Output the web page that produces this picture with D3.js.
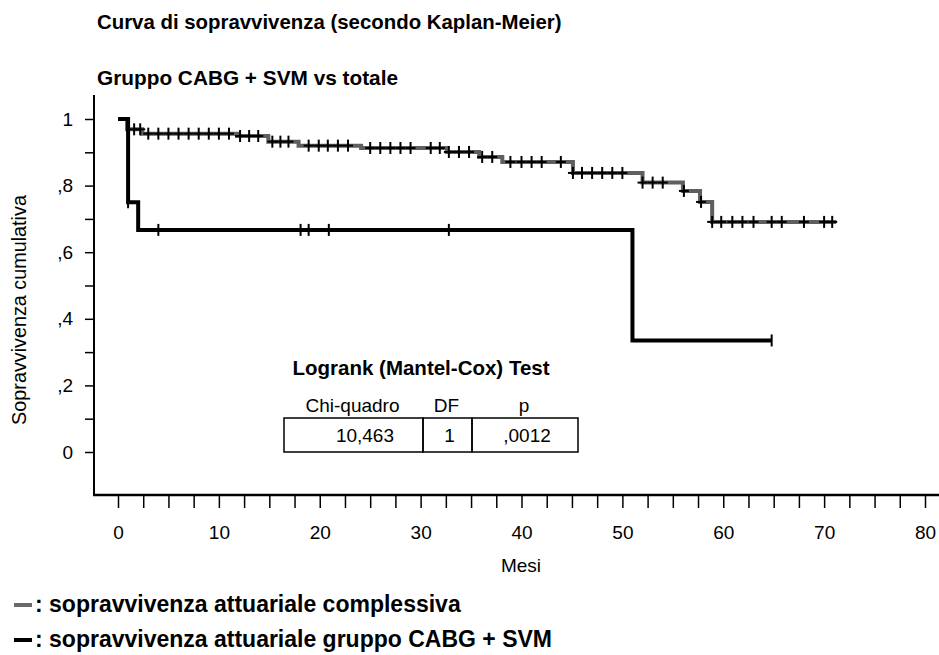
<!DOCTYPE html>
<html>
<head>
<meta charset="utf-8">
<script src="https://cdn.jsdelivr.net/npm/d3@7"></script>
<style>
  body { margin: 0; background: #fff; }
  svg text { font-family: "Liberation Sans", Arial, sans-serif; fill: #000; }
</style>
</head>
<body>
<svg id="chart" width="939" height="655"></svg>
<script>
// overall survival (grey)
const totTimes = [0.9, 2.4, 11.8, 14.9, 17.9, 24.1, 32.6, 35.8, 38.1, 45.1, 52.0, 56.0, 57.7, 58.9];
const totSurv = [0.969, 0.956, 0.949, 0.932, 0.920, 0.913, 0.901, 0.886, 0.871, 0.838, 0.809, 0.784, 0.751, 0.691];
const totCensor = [1.6, 2.2, 3, 4, 5, 6, 7, 8, 9, 10, 11, 12.1, 13, 13.9, 15.3, 16.1, 16.9,
  18.9, 19.9, 20.8, 21.8, 22.8, 25, 26, 27, 28, 29, 31, 31.9, 32.8, 33.8, 34.8, 36.1, 37.1,
  38.9, 40, 41, 42, 43.9, 45.1, 46, 47, 48, 49, 50, 52, 53, 54, 56.1, 57.8, 58.9, 59.8,
  60.9, 61.9, 63, 64.8, 65.8, 68, 70, 70.8];
const totEnd = 71.2;

// CABG + SVM group (black)
const cabgTimes = [1, 2, 51];
const cabgSurv = [0.75, 0.667, 0.335];
const cabgCensor = [1, 4, 18.1, 18.9, 20.9, 32.8, 64.8];
const cabgEnd = 64.8;

const xTicks = [0, 10, 20, 30, 40, 50, 60, 70, 80];
const yTicks = [0, 0.2, 0.4, 0.6, 0.8, 1];
const yTickLabels = ["0", ",2", ",4", ",6", ",8", "1"];

const testHead = ["Chi-quadro", "DF", "p"];
const testVals = ["10,463", "1", ",0012"];

let svg = d3.select("#chart");

let x = d3.scaleLinear().domain([0, 80]).range([118, 925]);
let y = d3.scaleLinear().domain([0, 1]).range([452, 119]);

// titles
svg.append("text").attr("x", 97).attr("y", 29)
  .attr("font-size", 20.4).attr("font-weight", "bold")
  .text("Curva di sopravvivenza (secondo Kaplan-Meier)");
svg.append("text").attr("x", 97).attr("y", 85)
  .attr("font-size", 20.8).attr("font-weight", "bold")
  .text("Gruppo CABG + SVM vs totale");

// axes
svg.append("line").attr("x1", 94).attr("x2", 94).attr("y1", 95).attr("y2", 496)
  .attr("stroke", "#000").attr("stroke-width", 2);
svg.append("line").attr("x1", 93).attr("x2", 939).attr("y1", 495).attr("y2", 495)
  .attr("stroke", "#000").attr("stroke-width", 2.5);

let yAxis = d3.axisLeft(y)
  .tickValues(d3.range(0, 1.01, 0.1))
  .tickSize(9)
  .tickFormat(d => {
    let i = yTicks.findIndex(v => Math.abs(v - d) < 1e-6);
    return i >= 0 ? yTickLabels[i] : "";
  });
let gy = svg.append("g").attr("transform", "translate(94,0)").call(yAxis);
gy.select(".domain").remove();
gy.selectAll("line").attr("stroke-width", 1.5);
gy.selectAll("text").attr("font-size", 19).attr("x", -21).attr("font-family", "Liberation Sans, Arial, sans-serif");

let xAxis = d3.axisBottom(x)
  .tickValues(d3.range(0, 80.1, 2.5))
  .tickSize(13)
  .tickFormat(d => xTicks.includes(d) ? d : "");
let gx = svg.append("g").attr("transform", "translate(0,495)").call(xAxis);
gx.select(".domain").remove();
gx.selectAll("line").attr("stroke-width", 1.5);
gx.selectAll("text").attr("font-size", 19).attr("y", 31).attr("font-family", "Liberation Sans, Arial, sans-serif");

svg.append("text").attr("x", 521).attr("y", 572).attr("text-anchor", "middle")
  .attr("font-size", 19).text("Mesi");
svg.append("text").attr("transform", "translate(26,310) rotate(-90)")
  .attr("text-anchor", "middle").attr("font-size", 19.8).text("Sopravvivenza cumulativa");

// step curves
function stepPoints(times, surv, end) {
  let pts = [[0, 1]];
  times.forEach((t, i) => pts.push([t, surv[i]]));
  pts.push([end, surv[surv.length - 1]]);
  return pts;
}
function survAt(times, surv, t) {
  let s = 1;
  times.forEach((tt, i) => { if (tt <= t + 1e-9) s = surv[i]; });
  return s;
}

let line = d3.line().x(d => x(d[0])).y(d => y(d[1])).curve(d3.curveStepAfter);

let series = [
  {times: totTimes, surv: totSurv, cens: totCensor, end: totEnd, color: "#5f5f5f", plus: true},
  {times: cabgTimes, surv: cabgSurv, cens: cabgCensor, end: cabgEnd, color: "#000", plus: false}
];

series.forEach(s => {
  svg.append("path")
    .datum(stepPoints(s.times, s.surv, s.end))
    .attr("d", line)
    .attr("fill", "none")
    .attr("stroke", s.color)
    .attr("stroke-width", 4);

  let g = svg.append("g");
  s.cens.forEach(t => {
    let cx = x(t), cy = y(survAt(s.times, s.surv, t));
    g.append("line").attr("x1", cx).attr("x2", cx).attr("y1", cy - 6).attr("y2", cy + 6)
      .attr("stroke", "#000").attr("stroke-width", 2);
    if (s.plus) {
      g.append("line").attr("x1", cx - 5).attr("x2", cx + 5).attr("y1", cy).attr("y2", cy)
        .attr("stroke", "#000").attr("stroke-width", 2);
    }
  });
});

// logrank table
svg.append("text").attr("x", 421).attr("y", 375).attr("text-anchor", "middle")
  .attr("font-size", 20.5).attr("font-weight", "bold").text("Logrank (Mantel-Cox) Test");

let cells = [[284, 423], [423, 472], [472, 578]];
cells.forEach((c, i) => {
  let cx = (c[0] + c[1]) / 2;
  svg.append("text").attr("x", cx - 1).attr("y", 412).attr("text-anchor", "middle")
    .attr("font-size", 19).text(testHead[i]);
  svg.append("rect").attr("x", c[0]).attr("y", 418).attr("width", c[1] - c[0]).attr("height", 34)
    .attr("fill", "none").attr("stroke", "#000").attr("stroke-width", 1.5);
  svg.append("text").attr("x", i === 0 ? c[1] - 29 : cx + 2).attr("y", 442)
    .attr("text-anchor", i === 0 ? "end" : "middle")
    .attr("font-size", 19).text(testVals[i]);
});

// legend
let legend = [
  {color: "#6a6a6a", label: ": sopravvivenza attuariale complessiva", y: 605},
  {color: "#000", label: ": sopravvivenza attuariale gruppo CABG + SVM", y: 640}
];
legend.forEach(l => {
  svg.append("line").attr("x1", 14).attr("x2", 32).attr("y1", l.y).attr("y2", l.y)
    .attr("stroke", l.color).attr("stroke-width", 4);
  svg.append("text").attr("x", 35).attr("y", l.y + 7)
    .attr("font-size", 23).attr("font-weight", "bold").text(l.label);
});
</script>
</body>
</html>
